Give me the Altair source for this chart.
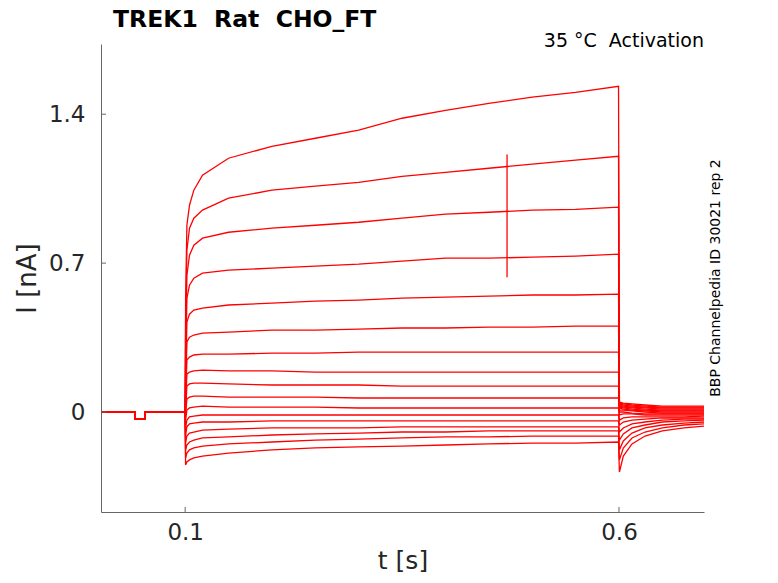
import pandas as pd
import altair as alt

# time points (s)
base_t = [0.003, 0.042, 0.0425, 0.0535, 0.054, 0.1]
step_t = [0.1005, 0.102, 0.105, 0.11, 0.12, 0.15, 0.2, 0.25, 0.3, 0.35,
          0.4, 0.45, 0.5, 0.55, 0.5995]
tail_t = [0.6005, 0.605, 0.615, 0.63, 0.65, 0.675, 0.698]

# holding level before the step (shared by all sweeps)
base_I = [0, 0, -0.035, -0.035, 0, 0]

# current during the step (nA), one list per sweep, top to bottom
step_I = [
    [0.526, 0.878, 0.972, 1.043, 1.113, 1.193, 1.249, 1.287, 1.325, 1.381, 1.418, 1.451, 1.480, 1.503, 1.531],
    [0.385, 0.761, 0.864, 0.911, 0.949, 1.005, 1.043, 1.062, 1.080, 1.108, 1.127, 1.146, 1.165, 1.184, 1.202],
    [0.291, 0.643, 0.737, 0.784, 0.817, 0.845, 0.864, 0.878, 0.892, 0.911, 0.930, 0.939, 0.949, 0.953, 0.963],
    [0.197, 0.535, 0.596, 0.629, 0.653, 0.667, 0.676, 0.686, 0.695, 0.709, 0.723, 0.723, 0.728, 0.733, 0.742],
    [0.127, 0.423, 0.460, 0.479, 0.488, 0.503, 0.512, 0.521, 0.526, 0.535, 0.540, 0.545, 0.550, 0.550, 0.554],
    [0.080, 0.329, 0.352, 0.362, 0.371, 0.376, 0.385, 0.385, 0.390, 0.395, 0.395, 0.399, 0.399, 0.404, 0.404],
    [0.056, 0.244, 0.258, 0.268, 0.272, 0.272, 0.277, 0.277, 0.282, 0.282, 0.282, 0.282, 0.282, 0.282, 0.282],
    [0.033, 0.178, 0.188, 0.193, 0.197, 0.193, 0.193, 0.188, 0.188, 0.188, 0.188, 0.188, 0.188, 0.188, 0.188],
    [0.009, 0.122, 0.132, 0.136, 0.136, 0.132, 0.127, 0.127, 0.127, 0.122, 0.122, 0.122, 0.122, 0.122, 0.122],
    [-0.014, 0.061, 0.070, 0.075, 0.075, 0.070, 0.070, 0.070, 0.066, 0.066, 0.066, 0.066, 0.066, 0.066, 0.066],
    [-0.038, 0.009, 0.019, 0.023, 0.028, 0.023, 0.023, 0.023, 0.019, 0.019, 0.019, 0.019, 0.019, 0.019, 0.019],
    [-0.075, -0.038, -0.023, -0.019, -0.014, -0.014, -0.014, -0.014, -0.014, -0.014, -0.014, -0.014, -0.014, -0.014, -0.014],
    [-0.108, -0.070, -0.056, -0.052, -0.047, -0.047, -0.042, -0.042, -0.042, -0.042, -0.042, -0.042, -0.042, -0.042, -0.042],
    [-0.141, -0.113, -0.099, -0.094, -0.085, -0.080, -0.075, -0.075, -0.075, -0.070, -0.070, -0.070, -0.070, -0.070, -0.070],
    [-0.178, -0.155, -0.141, -0.132, -0.122, -0.117, -0.108, -0.103, -0.099, -0.094, -0.094, -0.089, -0.089, -0.089, -0.089],
    [-0.216, -0.193, -0.178, -0.169, -0.160, -0.150, -0.141, -0.132, -0.127, -0.122, -0.117, -0.117, -0.113, -0.113, -0.113],
    [-0.249, -0.235, -0.225, -0.216, -0.207, -0.193, -0.178, -0.169, -0.164, -0.160, -0.155, -0.150, -0.146, -0.146, -0.141],
]

# tail currents after the step
tail_I = [
    [0.047, 0.042, 0.038, 0.033, 0.028, 0.028, 0.028],
    [0.042, 0.038, 0.033, 0.028, 0.023, 0.023, 0.023],
    [0.038, 0.033, 0.028, 0.023, 0.019, 0.019, 0.019],
    [0.033, 0.028, 0.023, 0.019, 0.014, 0.014, 0.014],
    [0.028, 0.023, 0.019, 0.014, 0.009, 0.009, 0.009],
    [0.023, 0.019, 0.014, 0.009, 0.005, 0.005, 0.005],
    [0.019, 0.014, 0.009, 0.005, 0.0, 0.0, 0.0],
    [0.009, 0.009, 0.005, 0.0, -0.005, -0.005, -0.005],
    [0.0, 0.0, -0.005, -0.009, -0.009, -0.009, -0.009],
    [-0.014, -0.009, -0.009, -0.014, -0.014, -0.014, -0.014],
    [-0.038, -0.028, -0.023, -0.023, -0.023, -0.023, -0.019],
    [-0.061, -0.047, -0.038, -0.033, -0.028, -0.028, -0.028],
    [-0.094, -0.075, -0.056, -0.047, -0.038, -0.033, -0.033],
    [-0.132, -0.103, -0.075, -0.061, -0.047, -0.042, -0.038],
    [-0.178, -0.136, -0.099, -0.075, -0.061, -0.052, -0.047],
    [-0.225, -0.169, -0.122, -0.094, -0.075, -0.061, -0.056],
    [-0.282, -0.207, -0.150, -0.113, -0.089, -0.075, -0.066],
]

# artifact on the second sweep
spike_t = [0.471]
spike_lo = [0.634]
spike_hi = [1.21]

xticks = [0.1, 0.6]
yticks = [0, 0.7, 1.4]

rows = []
for k in range(len(step_I)):
    ts = base_t + step_t + tail_t
    vs = base_I + step_I[k] + tail_I[k]
    for t, v in zip(ts, vs):
        rows.append({"t": t, "I": v, "sweep": k})
df = pd.DataFrame(rows)

W, H = 603, 468
FONT = "DejaVu Sans"
xs = alt.Scale(domain=[0.003, 0.698], nice=False, zero=False)
ys = alt.Scale(domain=[-0.47, 1.73], nice=False, zero=False)
xax = alt.Axis(values=xticks, ticks=False, grid=False, labelPadding=9,
               titlePadding=4, titleFontSize=25, format=".1f")
yax = alt.Axis(values=yticks, ticks=False, grid=False, labelPadding=16,
               titlePadding=8, format=".1~f")

lines = alt.Chart(df).mark_line(color="#ff0000", strokeWidth=1.3, clip=True).encode(
    alt.X("t:Q", scale=xs, title="t [s]", axis=xax),
    alt.Y("I:Q", scale=ys, title="I [nA]", axis=yax),
    alt.Detail("sweep:N"),
)

spike = alt.Chart(pd.DataFrame({"t": spike_t, "I": spike_lo, "hi": spike_hi})).mark_rule(
    color="#ff0000", strokeWidth=1.3
).encode(
    x=alt.X("t:Q", scale=xs, title="t [s]", axis=xax),
    y=alt.Y("I:Q", scale=ys, title="I [nA]", axis=yax),
    y2="hi:Q",
)

xtick_marks = alt.Chart(pd.DataFrame({"t": xticks})).mark_rule(color="#666666").encode(
    x=alt.X("t:Q", scale=xs, title="t [s]", axis=xax),
    y=alt.value(H), y2=alt.value(H - 5),
)
ytick_marks = alt.Chart(pd.DataFrame({"I": yticks})).mark_rule(color="#666666").encode(
    y=alt.Y("I:Q", scale=ys, title="I [nA]", axis=yax),
    x=alt.value(0), x2=alt.value(5),
)

title = alt.Chart(pd.DataFrame({"s": ["TREK1\u00a0 Rat\u00a0 CHO_FT"]})).mark_text(
    align="left", baseline="alphabetic", fontSize=23.5, font=FONT, fontWeight="bold",
    color="#000000"
).encode(x=alt.value(12), y=alt.value(-17), text="s:N")

note = alt.Chart(pd.DataFrame({"s": ["35 °C\u00a0 Activation"]})).mark_text(
    align="right", baseline="alphabetic", fontSize=19, font=FONT, color="#000000"
).encode(x=alt.value(W), y=alt.value(3), text="s:N")

side = alt.Chart(pd.DataFrame({"s": ["BBP Channelpedia ID 30021 rep 2"]})).mark_text(
    align="center", baseline="middle", angle=270, fontSize=14, font=FONT, color="#000000"
).encode(x=alt.value(W + 12), y=alt.value(H / 2), text="s:N")

chart = alt.layer(lines, spike, xtick_marks, ytick_marks, title, note, side).properties(
    width=W, height=H,
    autosize=alt.AutoSizeParams(type="none"),
    padding={"left": 93, "top": 36, "right": 66, "bottom": 63},
).configure_view(stroke=None).configure_axis(
    domainColor="#666666", labelFont=FONT, titleFont=FONT, labelFontSize=23,
    titleFontSize=26, labelColor="#262626", titleColor="#262626",
    titleFontWeight="normal",
)

chart.save("out.html", embed_options={"renderer": "svg", "actions": False})
